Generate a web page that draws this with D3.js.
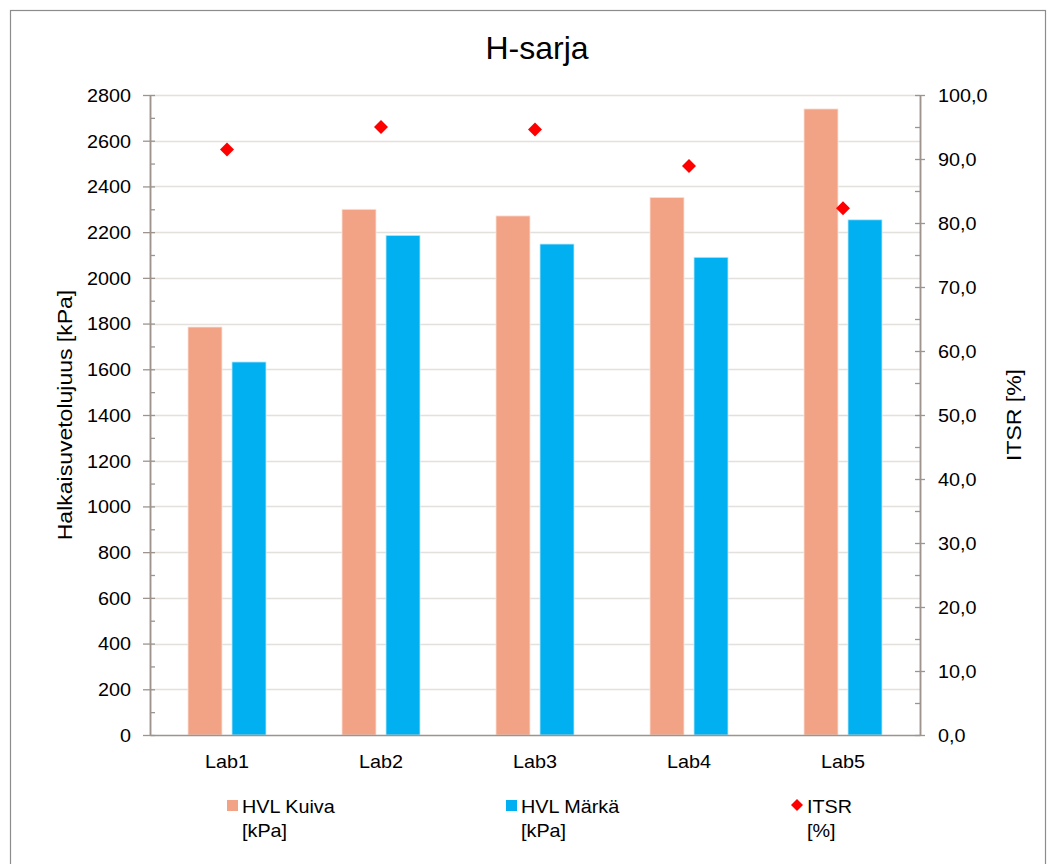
<!DOCTYPE html>
<html>
<head>
<meta charset="utf-8">
<script src="https://cdn.jsdelivr.net/npm/d3@7"></script>
<style>
  html, body { margin: 0; padding: 0; background: #fff; }
  svg { display: block; font-family: "Liberation Sans", Arial, sans-serif; }
</style>
</head>
<body>
<svg id="chart" width="1050" height="864"></svg>
<script>
// Split tensile strength per lab (dry / wet) and the resulting ITSR ratio
const labs = ["Lab1", "Lab2", "Lab3", "Lab4", "Lab5"];
const hvlKuiva = [1785, 2300, 2271, 2352, 2739];   // kPa
const hvlMarka = [1632, 2186, 2148, 2090, 2254];   // kPa
const itsr = [91.5, 95.0, 94.6, 88.9, 82.3];       // %
const leftTicks = d3.range(0, 2801, 200);
const leftMinor = d3.range(0, 2801, 100);
const rightTicks = d3.range(0, 101, 10);
const rightMinor = d3.range(0, 101, 5);
const seriesNames = [["HVL Kuiva", "[kPa]"], ["HVL Märkä", "[kPa]"], ["ITSR", "[%]"]];

const colKuiva = "#F2A385", colMarka = "#00B0F0", colItsr = "#FF0000";
const axisCol = "#9d948d", gridCol = "#e4e0dc";
const SX = 1.1;   // horizontal glyph stretch used for axis and legend text
const FS = 18;    // base font size

const svg = d3.select("#chart");
const plot = { left: 150, right: 920, top: 95, bottom: 735 };

// outer frame
svg.append("rect").attr("x", 10.5).attr("y", 10.5).attr("width", 1035).attr("height", 880)
  .attr("fill", "#fff").attr("stroke", "#8c8c8c").attr("stroke-width", 1.2);

const x = d3.scaleBand().domain(labs).range([plot.left, plot.right]).paddingInner(0).paddingOuter(0);
const xs = d3.scaleBand().domain(["kuiva", "marka"]).range([38, 116]).paddingInner(10 / 44);
const yL = d3.scaleLinear().domain([0, 2800]).range([plot.bottom, plot.top]);
const yR = d3.scaleLinear().domain([0, 100]).range([plot.bottom, plot.top]);

// horizontal gridlines
svg.append("g").selectAll("line").data(leftTicks.filter(d => d > 0)).join("line")
  .attr("x1", plot.left).attr("x2", plot.right)
  .attr("y1", d => Math.round(yL(d)) + 0.5).attr("y2", d => Math.round(yL(d)) + 0.5)
  .attr("stroke", gridCol).attr("stroke-width", 1.3);

// bars
const groups = svg.append("g").selectAll("g").data(labs).join("g")
  .attr("transform", d => `translate(${x(d)},0)`);
groups.append("rect")
  .attr("x", xs("kuiva")).attr("width", xs.bandwidth())
  .attr("y", (d, i) => yL(hvlKuiva[i])).attr("height", (d, i) => yL(0) - yL(hvlKuiva[i]))
  .attr("fill", colKuiva).attr("stroke", "#fbe3da").attr("stroke-width", 0.8);
groups.append("rect")
  .attr("x", xs("marka")).attr("width", xs.bandwidth())
  .attr("y", (d, i) => yL(hvlMarka[i])).attr("height", (d, i) => yL(0) - yL(hvlMarka[i]))
  .attr("fill", colMarka).attr("stroke", "#bfeafb").attr("stroke-width", 0.8);

// ITSR markers (diamonds)
const diamond = r => `M0,${-r}L${r},0L0,${r}L${-r},0Z`;
svg.append("g").selectAll("path").data(labs).join("path")
  .attr("d", diamond(7))
  .attr("transform", (d, i) => `translate(${x(d) + x.bandwidth() / 2},${yR(itsr[i])})`)
  .attr("fill", colItsr);

// axes
function styleAxis(g) {
  g.selectAll(".domain").attr("stroke", axisCol).attr("stroke-width", 1.5);
  g.selectAll(".tick line").attr("stroke", axisCol).attr("stroke-width", 1.3);
}
function styleTickText(sel) {
  sel.attr("font-size", FS).attr("fill", "#000")
    .attr("font-family", "Liberation Sans, Arial, sans-serif");
}
// left: minor inward ticks + major outward ticks with labels
svg.append("g").attr("transform", `translate(${plot.left},0)`)
  .call(d3.axisLeft(yL).tickValues(leftMinor).tickSize(-5).tickFormat("").tickSizeOuter(0))
  .call(styleAxis);
const gl = svg.append("g").attr("transform", `translate(${plot.left},0)`)
  .call(d3.axisLeft(yL).tickValues(leftTicks).tickSize(7).tickSizeOuter(0).tickFormat(d3.format("d")))
  .call(styleAxis);
gl.selectAll(".tick text").attr("x", -19 / SX).attr("dy", "0.35em")
  .attr("transform", `scale(${SX},1)`).call(styleTickText);

// right: minor inward ticks + major crossing ticks with labels
const fmtR = d => d3.format(".1f")(d).replace(".", ",");
svg.append("g").attr("transform", `translate(${plot.right},0)`)
  .call(d3.axisRight(yR).tickValues(rightMinor).tickSize(-5).tickFormat("").tickSizeOuter(0))
  .call(styleAxis);
const gr = svg.append("g").attr("transform", `translate(${plot.right},0)`)
  .call(d3.axisRight(yR).tickValues(rightTicks).tickSize(5).tickSizeOuter(0).tickFormat(fmtR))
  .call(styleAxis);
gr.selectAll(".tick text").attr("x", 18 / SX).attr("dy", "0.35em")
  .attr("transform", `scale(${SX},1)`).call(styleTickText);

// bottom: category axis
const gb = svg.append("g").attr("transform", `translate(0,${plot.bottom})`)
  .call(d3.axisBottom(x).tickSize(0).tickSizeOuter(0))
  .call(styleAxis);
gb.selectAll(".tick text").attr("y", 0).attr("dy", 0)
  .attr("transform", `translate(0,33) scale(${SX},1)`).call(styleTickText);

// stretched text helper
function label(txt, px, py, opts = {}) {
  const g = svg.append("g")
    .attr("transform", `translate(${px},${py})` + (opts.rotate ? ` rotate(${opts.rotate})` : "") + ` scale(${opts.sx || SX},1)`);
  g.append("text").text(txt)
    .attr("font-size", opts.size || FS)
    .attr("text-anchor", opts.anchor || "start")
    .attr("fill", "#000");
  return g;
}

// title
label("H-sarja", 537, 59, { size: 32, anchor: "middle", sx: 1 });

// axis titles
label("Halkaisuvetolujuus [kPa]", 72, 415, { size: 19.5, anchor: "middle", rotate: -90, sx: 1.18 });
label("ITSR [%]", 1021, 415, { size: 19.5, anchor: "middle", rotate: -90, sx: 1.18 });

// legend
const legendX = [227, 506, 792];
const legend = svg.append("g");
seriesNames.forEach((nm, i) => {
  const lx = legendX[i];
  if (i < 2) {
    legend.append("rect").attr("x", lx).attr("y", 800).attr("width", 11).attr("height", 11)
      .attr("fill", i === 0 ? colKuiva : colMarka);
  } else {
    legend.append("path").attr("d", diamond(6)).attr("transform", `translate(${lx + 5},805)`).attr("fill", colItsr);
  }
  label(nm[0], lx + 15, 812.5);
  label(nm[1], lx + 15, 836.5);
});
</script>
</body>
</html>
